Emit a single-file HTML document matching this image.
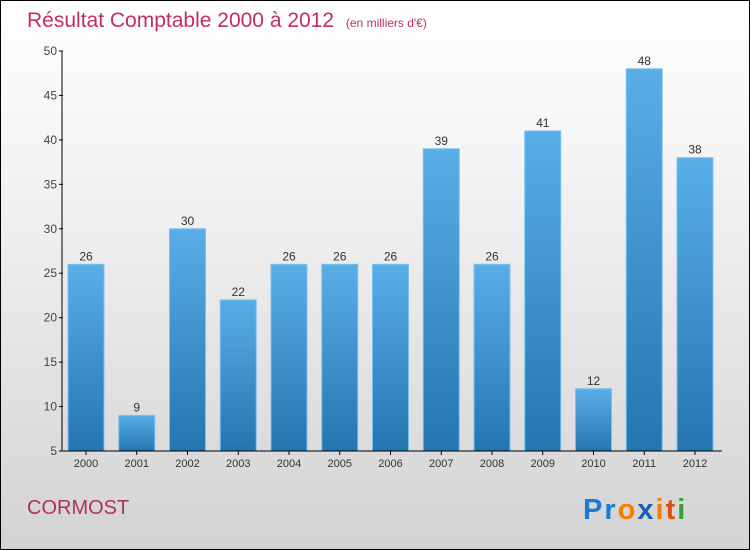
<!DOCTYPE html>
<html><head><meta charset="utf-8"><style>
body{margin:0}
#c{width:748px;height:548px;border:1px solid #000;background:linear-gradient(#fff,#f4f4f4 30%,#d3d3d3);position:relative;font-family:"Liberation Sans",sans-serif;overflow:hidden}
</style></head><body>
<div id="c">
<svg id="s" width="748" height="548" style="position:absolute;left:0;top:0">
<defs><linearGradient id="g" x1="0" y1="0" x2="0" y2="1"><stop offset="0" stop-color="#5aaee8"/><stop offset="1" stop-color="#2475b0"/></linearGradient></defs>
<text x="26" y="26" font-size="21" fill="#c0305a">Résultat Comptable 2000 à 2012 <tspan font-size="12" dx="6">(en milliers d'€)</tspan></text>
<text x="26" y="513" font-size="20" fill="#b03060">CORMOST</text>
<text x="582" y="518" font-size="29" font-weight="bold" letter-spacing="2"><tspan fill="#1a7bd0">Pr</tspan><tspan fill="#f08000">o</tspan><tspan fill="#1a60b0">x</tspan><tspan fill="#f08000">i</tspan><tspan fill="#e05010">t</tspan><tspan fill="#38a038">i</tspan></text>
<g id="plot"></g>
</svg>
</div>
<script>
const categories=["2000","2001","2002","2003","2004","2005","2006","2007","2008","2009","2010","2011","2012"];
const values=[26,9,30,22,26,26,26,39,26,41,12,48,38];
const yTicks=[5,10,15,20,25,30,35,40,45,50];
const NS="http://www.w3.org/2000/svg";
const g=document.getElementById("plot");
const y=v=>450-(v-5)*400/45;
const xc=i=>85+i*50.75;
function mk(t,a,txt){const e=document.createElementNS(NS,t);for(const k in a)e.setAttribute(k,a[k]);if(txt!=null)e.textContent=txt;g.appendChild(e);return e;}
categories.forEach((c,i)=>{
 const r=mk("rect",{x:xc(i)-18,y:y(values[i]),width:36,height:450-y(values[i]),fill:"url(#g)",stroke:"#7cc0f0","stroke-width":1});
 
 
 const l=mk("text",{x:xc(i),y:y(values[i])-4,"text-anchor":"middle","font-size":12,fill:"#333"},values[i]);
 
 
 const tk=mk("line",{x1:xc(i),x2:xc(i),y1:450,y2:454,stroke:"#000"});
 
 
 const xl=mk("text",{x:xc(i),y:466,"text-anchor":"middle","font-size":11,fill:"#333"},c);
 
 
});
yTicks.forEach(v=>{
 const tk=mk("line",{x1:58,x2:62,y1:y(v),y2:y(v),stroke:"#000"});
 
 
 const t=mk("text",{x:56,y:y(v)+4,"text-anchor":"end","font-size":12,fill:"#444"},v);
 
 
});
const ya=mk("line",{x1:61,x2:61,y1:50,y2:450,stroke:"#000"});


const xa=mk("line",{x1:61,x2:721,y1:450,y2:450,stroke:"#000"});


</script>
</body></html>
